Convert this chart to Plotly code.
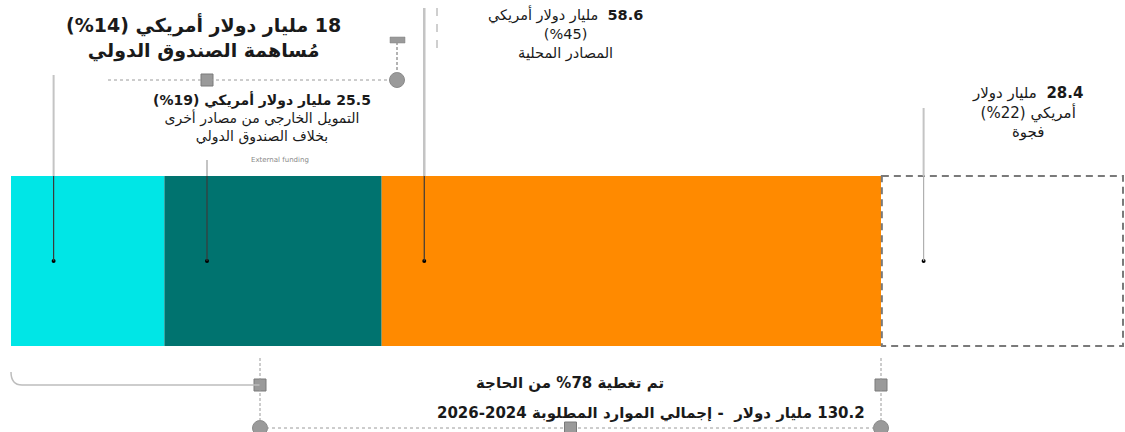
import plotly.graph_objects as go

# ---------------- data ----------------
segment_names = ["مُساهمة الصندوق الدولي", "التمويل الخارجي من مصادر أخرى بخلاف الصندوق الدولي",
                 "المصادر المحلية", "فجوة"]
segment_values = [18, 25.5, 58.6, 28.4]          # billion USD
segment_shares = [14, 19, 45, 22]                # percent
segment_colors = ["#00E6E6", "#00736F", "#FF8A00", "#FFFFFF"]
total_required = 130.2
covered_share = 78
period = "2024-2026"

# ---------------- geometry helpers (layout only) ----------------
W, H = 1125, 432
LEFT_PX, RIGHT_PX = 11, 1123
total_len = sum(segment_values)
S = (RIGHT_PX - LEFT_PX) / total_len          # px per unit


def X(px):
    return (px - LEFT_PX) / S


BAR_Y, BAR_H = 261, 170
starts = []
acc = 0
for v in segment_values:
    starts.append(acc)
    acc += v
covered_end = sum(segment_values[:3])

RLE, PDF = "\u202b", "\u202c"

fig = go.Figure()

# bars
for i in range(3):
    fig.add_trace(go.Bar(orientation="h", x=[segment_values[i]], base=[starts[i]], y=[BAR_Y],
                         width=[BAR_H], marker=dict(color=segment_colors[i], line=dict(width=0)),
                         hoverinfo="skip", showlegend=False))
fig.add_trace(go.Bar(orientation="h", x=[segment_values[3]], base=[starts[3]], y=[BAR_Y],
                     width=[BAR_H], marker=dict(color="white", line=dict(width=0)),
                     hoverinfo="skip", showlegend=False))

shapes = []
# gap dashed outline
shapes.append(dict(type="rect", xref="x", yref="y", x0=starts[3] + 0.1, x1=starts[3] + segment_values[3],
                   y0=BAR_Y - BAR_H / 2, y1=BAR_Y + BAR_H / 2,
                   line=dict(color="#7a7a7a", width=2, dash="7px,5px"), fillcolor="rgba(0,0,0,0)"))

# leader lines
leader_top = [75, 160, 8, 108]
dot_x = [starts[i] + 5 for i in range(4)]
for i in range(4):
    shapes.append(dict(type="line", xref="x", yref="y", x0=dot_x[i], x1=dot_x[i],
                       y0=leader_top[i], y1=BAR_Y - BAR_H / 2,
                       line=dict(color="#c4c4c4", width=2.5 if i == 2 else 2)))
    shapes.append(dict(type="line", xref="x", yref="y", x0=dot_x[i], x1=dot_x[i],
                       y0=BAR_Y - BAR_H / 2, y1=BAR_Y,
                       line=dict(color="#3a3a3a" if i < 3 else "#b0b0b0", width=1.2)))
fig.add_trace(go.Scatter(x=dot_x, y=[BAR_Y] * 4, mode="markers",
                         marker=dict(color="black", size=4), hoverinfo="skip", showlegend=False))

dash_col = "#9a9a9a"
# top connector
shapes.append(dict(type="line", xref="x", yref="y", x0=X(108), x1=X(397), y0=80, y1=80,
                   line=dict(color=dash_col, width=1, dash="3px,3px")))
shapes.append(dict(type="line", xref="x", yref="y", x0=X(397), x1=X(397), y0=42, y1=80,
                   line=dict(color=dash_col, width=1.5, dash="3px,2px")))
shapes.append(dict(type="rect", xref="x", yref="y", x0=X(390), x1=X(405), y0=37, y1=43,
                   fillcolor="#9a9a9a", line=dict(color="#808080", width=0.5)))
shapes.append(dict(type="line", xref="x", yref="y", x0=X(437), x1=X(437), y0=8, y1=54,
                   line=dict(color="#c0c0c0", width=1.5, dash="8px,8px")))

# bottom connectors
path = "M {a},372 Q {a},385 {b},385 L {c},385".format(a=X(11), b=X(22), c=X(260))
shapes.append(dict(type="path", xref="x", yref="y", path=path,
                   line=dict(color="#bdbdbd", width=1.5)))
shapes.append(dict(type="line", xref="x", yref="y", x0=X(260), x1=X(260), y0=358, y1=432,
                   line=dict(color=dash_col, width=1, dash="3px,2px")))
shapes.append(dict(type="line", xref="x", yref="y", x0=covered_end, x1=covered_end, y0=358, y1=432,
                   line=dict(color=dash_col, width=1, dash="3px,2px")))
shapes.append(dict(type="line", xref="x", yref="y", x0=X(260), x1=covered_end, y0=428, y1=428,
                   line=dict(color=dash_col, width=1, dash="3px,3px")))

fig.add_trace(go.Scatter(x=[X(207), X(260), covered_end, (X(260) + covered_end) / 2],
                         y=[80, 385, 385, 428], mode="markers",
                         marker=dict(symbol="square", size=12, color="#9a9a9a",
                                     line=dict(color="#7a7a7a", width=1)),
                         hoverinfo="skip", showlegend=False, cliponaxis=False))
fig.add_trace(go.Scatter(x=[X(397), X(260), covered_end], y=[80, 428, 428], mode="markers",
                         marker=dict(symbol="circle", size=15, color="#9a9a9a",
                                     line=dict(color="#8a8a8a", width=1)),
                         hoverinfo="skip", showlegend=False, cliponaxis=False))

FONT = "DejaVu Sans, Tahoma, sans-serif"
ann = []


def line_rtl(text, bold=False, bold_lead=None):
    """One right-to-left line; optional bold whole line or bold leading number."""
    if bold:
        return "<b>" + RLE + text + PDF + "</b>"
    if bold_lead is not None:
        return "<b>" + RLE + bold_lead + "</b>" + text + PDF
    return RLE + text + PDF


def label(px, py, lines, size, color="#1a1a1a"):
    ann.append(dict(x=X(px), y=py, xref="x", yref="y", text="<br>".join(lines), showarrow=False,
                    xanchor="center", yanchor="middle", align="center",
                    font=dict(family=FONT, size=size, color=color)))


label(203, 37, [line_rtl("{:g} مليار دولار أمريكي ({}%)".format(segment_values[0], segment_shares[0]), bold=True),
                line_rtl("مُساهمة الصندوق الدولي", bold=True)], 19)
label(262, 118, [line_rtl("{:g} مليار دولار أمريكي ({}%)".format(segment_values[1], segment_shares[1]), bold=True),
                 line_rtl("التمويل الخارجي من مصادر أخرى"),
                 line_rtl("بخلاف الصندوق الدولي")], 14)
label(565, 33, [line_rtl("  مليار دولار أمريكي", bold_lead="{:g}".format(segment_values[2])),
                line_rtl("(%{})".format(segment_shares[2])),
                line_rtl("المصادر المحلية")], 14.5)
label(1027, 112, [line_rtl("  مليار دولار", bold_lead="{:g}".format(segment_values[3])),
                  line_rtl("أمريكي ({}%)".format(segment_shares[3])),
                  line_rtl("فجوة")], 15)
label(570, 383, [line_rtl("تم تغطية {}% من الحاجة".format(covered_share), bold=True)], 15)
label(651, 413, [line_rtl("{:g} مليار دولار  - إجمالي الموارد المطلوبة {}".format(total_required, period),
                          bold=True)], 15)
ann.append(dict(x=X(280), y=160, xref="x", yref="y", text="External funding", showarrow=False,
                xanchor="center", yanchor="middle", font=dict(family=FONT, size=7, color="#888888")))

fig.update_layout(
    width=W, height=H, margin=dict(l=0, r=0, t=0, b=0),
    paper_bgcolor="white", plot_bgcolor="white", barmode="overlay",
    xaxis=dict(range=[X(0), X(W)], visible=False, fixedrange=True),
    yaxis=dict(range=[H, 0], visible=False, fixedrange=True),
    shapes=shapes, annotations=ann, showlegend=False,
)
fig.write_html("out.html", config={"displayModeBar": False},
               post_script="document.body.style.margin='0';document.body.style.overflow='hidden';")
